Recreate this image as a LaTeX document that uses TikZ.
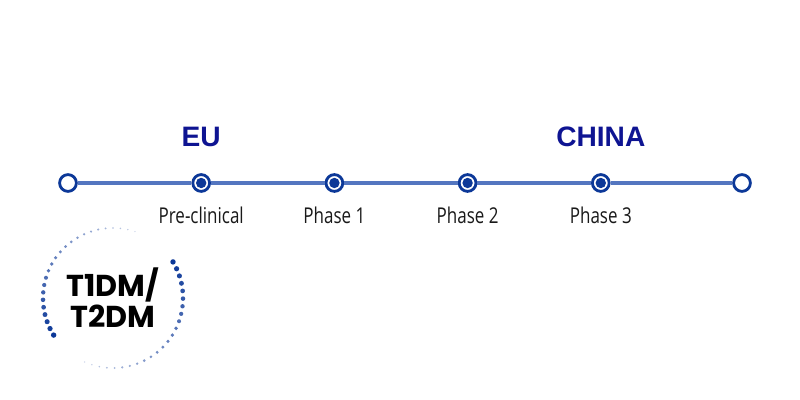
\documentclass[tikz,border=0pt]{standalone}
\usepackage{fontspec}
\setmainfont{Open Sans}[FakeStretch=0.78]
\newfontfamily\headfont{Liberation Sans}
\newfontfamily\badgefont{Poppins}
\usepackage{xcolor}
\usepackage{tikz}
\usetikzlibrary{positioning}

\definecolor{lineblue}{RGB}{84,118,192}
\definecolor{nodeblue}{RGB}{12,56,152}
\definecolor{titleblue}{RGB}{14,20,146}

\begin{document}
\begin{tikzpicture}[node distance=3.33cm]
    \tikzstyle{endstop} = [circle, draw=nodeblue, line width=2pt, fill=white, minimum size=0.42cm, inner sep=0pt]
    \tikzstyle{milestone} = [endstop, path picture={\fill[nodeblue] (path picture bounding box.center) circle (0.13cm);}]
    \tikzstyle{phaselabel} = [font=\fontsize{15.5}{18}\selectfont, text=black!90]
    \tikzstyle{regionlabel} = [font=\headfont\bfseries\fontsize{20}{24}\selectfont, text=titleblue]
    \tikzstyle{badgetext} = [font=\badgefont\bfseries\fontsize{21.5}{22}\selectfont, align=center]
    \tikzstyle{track} = [lineblue, line width=2.4pt]

    \useasboundingbox (0,0) rectangle (20,10);

    \node (start) [endstop] at (1.7,5.425) {};
    \node (preclin) [milestone, right of=start] {};
    \node (ph1) [milestone, right of=preclin] {};
    \node (ph2) [milestone, right of=ph1] {};
    \node (ph3) [milestone, right of=ph2] {};
    \node (finish) [endstop, right of=ph3, xshift=0.2cm] {};

    \draw [track] (start) -- (preclin);
    \draw [track] (preclin) -- (ph1);
    \draw [track] (ph1) -- (ph2);
    \draw [track] (ph2) -- (ph3);
    \draw [track] (ph3) -- (finish);

    \node (preclinlbl) [phaselabel, below of=preclin, node distance=0.8cm] {Pre-clinical};
    \node (ph1lbl) [phaselabel, below of=ph1, node distance=0.8cm] {Phase 1};
    \node (ph2lbl) [phaselabel, below of=ph2, node distance=0.8cm] {Phase 2};
    \node (ph3lbl) [phaselabel, below of=ph3, node distance=0.8cm] {Phase 3};

    \node (eu) [regionlabel, above of=preclin, node distance=1.15cm] {EU};
    \node (china) [regionlabel, above of=ph3, node distance=1.15cm] {CHINA};

    % dotted ring round the badge
    \node (badge) [badgetext] at (2.825,2.55) {T1DM/\\T2DM};
    \foreach \i in {0,...,23} {
        \fill [nodeblue, opacity={1-\i/30}] ([shift={({212-6.1*\i}:1.75)}]badge.center) circle ({0.068-0.0022*\i});
        \fill [nodeblue, opacity={1-\i/30}] ([shift={({31-6.3*\i}:1.75)}]badge.center) circle ({0.068-0.0022*\i});
    }
\end{tikzpicture}
\end{document}
